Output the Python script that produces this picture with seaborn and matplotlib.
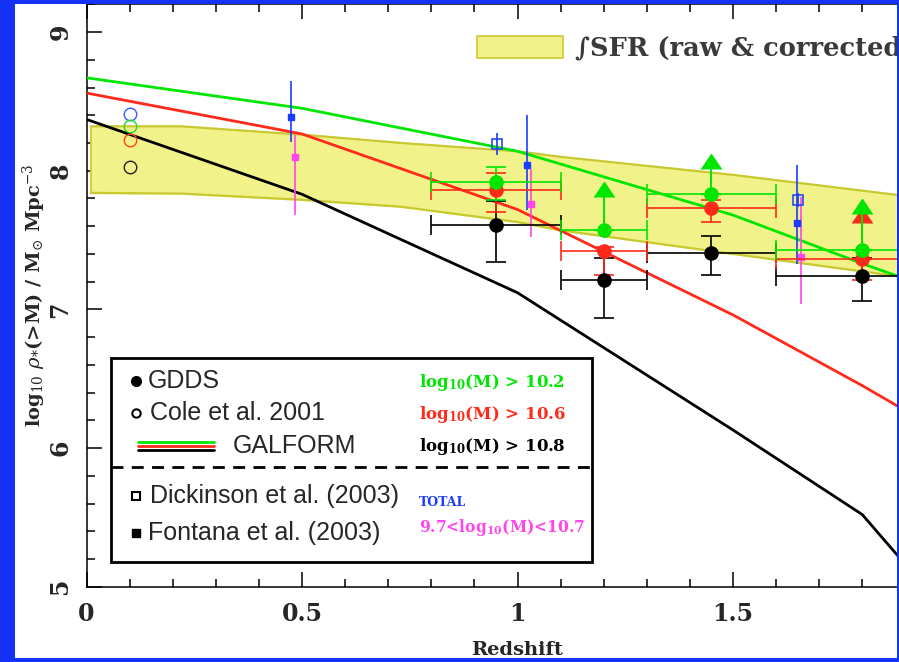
import numpy as np
import pandas as pd
import matplotlib
matplotlib.use("Agg")
import matplotlib.pyplot as plt
from matplotlib.patches import Rectangle
from matplotlib.ticker import MultipleLocator
import seaborn as sns

# GALFORM model curves
z_model = [0.0, 0.5, 1.0, 1.5, 1.8, 2.0]
galform_102 = [8.67, 8.45, 8.14, 7.68, 7.33, 7.11]
galform_106 = [8.56, 8.265, 7.72, 6.96, 6.45, 6.09]
galform_108 = [8.37, 7.83, 7.12, 6.13, 5.52, 4.80]

# integrated SFR band (raw & corrected)
z_band = [0.01, 0.22, 0.5, 0.73, 1.0, 1.1, 1.5, 2.0]
band_hi = [8.32, 8.32, 8.26, 8.20, 8.14, 8.10, 7.97, 7.78]
band_lo = [7.84, 7.835, 7.79, 7.74, 7.63, 7.57, 7.40, 7.19]

# Cole et al. 2001 (z=0.1)
cole_z = [0.1, 0.1, 0.1, 0.1]
cole_val = [8.41, 8.32, 8.22, 8.03]
cole_col = ["#3a5cff", "#22dd22", "#ff4422", "#222222"]

# GDDS bins
gdds_z = [0.95, 1.2, 1.45, 1.8]
gdds_zlo = [0.8, 1.1, 1.3, 1.6]
gdds_zhi = [1.1, 1.3, 1.6, 2.0]
gdds_108 = [7.61, 7.21, 7.41, 7.24]
gdds_108_lo = [0.27, 0.27, 0.16, 0.18]
gdds_108_hi = [0.17, 0.16, 0.12, 0.13]
gdds_106 = [7.86, 7.42, 7.73, 7.36]
gdds_106_lo = [0.16, 0.17, 0.10, 0.15]
gdds_106_hi = [0.12, 0.03, 0.06, 0.0]
gdds_106_arrow = [0.0, 0.0, 0.0, 0.26]
gdds_102 = [7.92, 7.57, 7.83, 7.43]
gdds_102_lo = [0.13, 0.0, 0.0, 0.0]
gdds_102_hi = [0.11, 0.0, 0.0, 0.0]
gdds_102_arrow = [0.0, 0.24, 0.18, 0.26]

# Dickinson et al. (2003)
dick_z = [0.952, 1.65]
dick_val = [8.19, 7.79]
dick_err = [0.08, 0.05]

# Fontana et al. (2003)
font_tot_z = [0.475, 1.023, 1.648]
font_tot = [8.39, 8.04, 7.62]
font_tot_lo = [0.18, 0.32, 0.29]
font_tot_hi = [0.26, 0.36, 0.42]
font_mid_z = [0.484, 1.032, 1.658]
font_mid = [8.10, 7.76, 7.38]
font_mid_lo = [0.42, 0.24, 0.34]
font_mid_hi = [0.16, 0.25, 0.43]

GREEN = "#00e600"
RED = "#ff2a1a"
BLACK = "#000000"
BLUE = "#1a3cff"
MAGENTA = "#ff44f0"
BORDER = "#1432f5"

sns.set_style("ticks")
plt.rcParams["font.family"] = ["DejaVu Serif"]
plt.rcParams["mathtext.fontset"] = "dejavuserif"

fig = plt.figure(figsize=(8.99, 6.62), dpi=100)
fig.patch.set_facecolor("white")
ax = fig.add_axes([86.5 / 899, 75.3 / 662, 862 / 899, 582.4 / 662])

# band
ax.fill_between(z_band, band_lo, band_hi, color="#f2f28a", zorder=1)
ax.plot(z_band, band_hi, color="#c8c830", lw=1.6, zorder=1.1)
ax.plot(z_band, band_lo, color="#c8c830", lw=1.6, zorder=1.1)
ax.plot([z_band[0], z_band[0]], [band_lo[0], band_hi[0]], color="#c8c830", lw=1.2, zorder=1.1)

# model lines
df = pd.DataFrame({"z": z_model, "g": galform_102, "r": galform_106, "k": galform_108})
sns.lineplot(data=df, x="z", y="g", color=GREEN, lw=2.0, ax=ax, zorder=3)
sns.lineplot(data=df, x="z", y="r", color=RED, lw=2.0, ax=ax, zorder=3)
sns.lineplot(data=df, x="z", y="k", color=BLACK, lw=2.0, ax=ax, zorder=3)

# Cole et al.
for zz, v, c in zip(cole_z, cole_val, cole_col):
    ax.plot(zz, v, "o", mfc="none", mec=c, ms=9, mew=1.0, zorder=4)

# GDDS
zerr = [np.subtract(gdds_z, gdds_zlo), np.subtract(gdds_zhi, gdds_z)]
for val, lo, hi, c in [(gdds_108, gdds_108_lo, gdds_108_hi, BLACK),
                       (gdds_106, gdds_106_lo, gdds_106_hi, RED),
                       (gdds_102, gdds_102_lo, gdds_102_hi, GREEN)]:
    ax.errorbar(gdds_z, val, xerr=zerr, yerr=[lo, hi], fmt="o", color=c, ms=9.5,
                elinewidth=1.2, capsize=7, capthick=1.2, zorder=5)

for val, arr, c in [(gdds_106, gdds_106_arrow, RED), (gdds_102, gdds_102_arrow, GREEN)]:
    idx = [i for i, a in enumerate(arr) if a > 0]
    ax.errorbar([gdds_z[i] for i in idx], [val[i] for i in idx],
                yerr=[[0] * len(idx), [arr[i] for i in idx]], lolims=True,
                fmt="none", color=c, ecolor=c, elinewidth=1.4, capsize=7, zorder=5)

# Fontana
ax.errorbar(font_tot_z, font_tot, yerr=[font_tot_lo, font_tot_hi], fmt="s", color=BLUE,
            ms=5, elinewidth=1.2, capsize=0, zorder=4)
ax.errorbar(font_mid_z, font_mid, yerr=[font_mid_lo, font_mid_hi], fmt="s", color=MAGENTA,
            ms=5, elinewidth=1.2, capsize=0, zorder=4)
# Dickinson
ax.errorbar(dick_z, dick_val, yerr=dick_err, fmt="s", color=BLUE, mfc="none", mec=BLUE,
            ms=7.5, mew=1.1, elinewidth=1.2, capsize=0, zorder=4)

ax.set_xlim(0, 2.0)
ax.set_ylim(5, 9.2)
ax.xaxis.set_major_locator(MultipleLocator(0.5))
ax.xaxis.set_minor_locator(MultipleLocator(0.1))
ax.yaxis.set_major_locator(MultipleLocator(1))
ax.yaxis.set_minor_locator(MultipleLocator(0.2))
ax.set_xticks([0, 0.5, 1, 1.5])
ax.set_xticklabels(["0", "0.5", "1", "1.5"])
ax.tick_params(which="both", direction="in", top=True, right=True, width=1.1, color="black")
ax.tick_params(which="major", length=11)
ax.tick_params(which="minor", length=6)
ax.tick_params(axis="x", pad=11, labelsize=17)
ax.tick_params(axis="y", pad=10, labelsize=17, labelrotation=90)
for lab in ax.get_xticklabels() + ax.get_yticklabels():
    lab.set_fontweight("bold")
for lab in ax.get_yticklabels():
    lab.set_va("center")
for s in ax.spines.values():
    s.set_linewidth(1.1)
    s.set_color("black")

ax.set_xlabel("Redshift", fontsize=14, fontweight="bold")
ax.xaxis.set_label_coords(0.5, -0.094)
ax.set_ylabel(r"log$_{10}$ $\rho_{*}$(>M) / M$_{\odot}$ Mpc$^{-3}$", fontsize=14,
              fontweight="bold")
ax.yaxis.set_label_coords(-0.045, 0.5)

# band legend
ax.add_patch(Rectangle((0.905, 8.813), 0.20, 0.158, facecolor="#f2f28a", edgecolor="#c8c830",
                       lw=1.2, zorder=6))
ax.text(1.133, 8.885, "\u222bSFR (raw & corrected)", fontsize=18.5, fontweight="bold",
        color="#3a3a3a", va="center", ha="left", zorder=6)

# legend box
ax.add_patch(Rectangle((0.0568, 5.177), 1.115, 1.475, facecolor="white", edgecolor="black",
                       lw=2.0, zorder=6))
ax.plot([0.0568, 1.172], [5.862, 5.862], color="black", lw=2.0, ls=(0, (4.3, 3)), zorder=7)

sans = ["Liberation Sans", "DejaVu Sans"]
ax.plot(0.115, 6.484, "o", color="black", ms=7, zorder=7)
ax.text(0.143, 6.484, "GDDS", family=sans, fontsize=18, va="center", zorder=7)
ax.plot(0.115, 6.253, "o", mfc="white", mec="black", ms=6, mew=1.5, zorder=7)
ax.text(0.147, 6.253, "Cole et al. 2001", family=sans, fontsize=18, va="center", zorder=7)
for yy, c in [(6.047, GREEN), (6.018, RED), (5.985, BLACK)]:
    ax.plot([0.119, 0.296], [yy, yy], color=c, lw=2.0, zorder=7)
ax.text(0.340, 6.015, "GALFORM", family=sans, fontsize=18, va="center", zorder=7)
ax.plot(0.115, 5.655, "s", mfc="white", mec="black", ms=6, mew=1.5, zorder=7)
ax.text(0.147, 5.655, "Dickinson et al. (2003)", family=sans, fontsize=18, va="center", zorder=7)
ax.plot(0.115, 5.388, "s", color="black", ms=6, zorder=7)
ax.text(0.143, 5.388, "Fontana et al. (2003)", family=sans, fontsize=18, va="center", zorder=7)

bsub = r"$_{\mathbf{10}}$"
ax.text(0.771, 6.469, "log" + bsub + "(M) > 10.2", color=GREEN, fontsize=12,
        fontweight="bold", va="center", zorder=7)
ax.text(0.771, 6.239, "log" + bsub + "(M) > 10.6", color=RED, fontsize=12,
        fontweight="bold", va="center", zorder=7)
ax.text(0.771, 6.008, "log" + bsub + "(M) > 10.8", color=BLACK, fontsize=12,
        fontweight="bold", va="center", zorder=7)
ax.text(0.771, 5.604, "TOTAL", color=BLUE, fontsize=9, fontweight="bold", va="center", zorder=7)
ax.text(0.771, 5.424, "9.7<log" + bsub + "(M)<10.7", color=MAGENTA, fontsize=11.2,
        fontweight="bold", va="center", zorder=7)

# blue frame around the white panel
for rect in [(0, 0, 15 / 899, 1), (897 / 899, 0, 2 / 899, 1),
             (0, 658 / 662, 1, 4 / 662), (0, 0, 1, 4 / 662)]:
    fig.add_artist(Rectangle(rect[:2], rect[2], rect[3], transform=fig.transFigure,
                             facecolor=BORDER, edgecolor="none", zorder=20))

fig.savefig("out.png", dpi=100)
